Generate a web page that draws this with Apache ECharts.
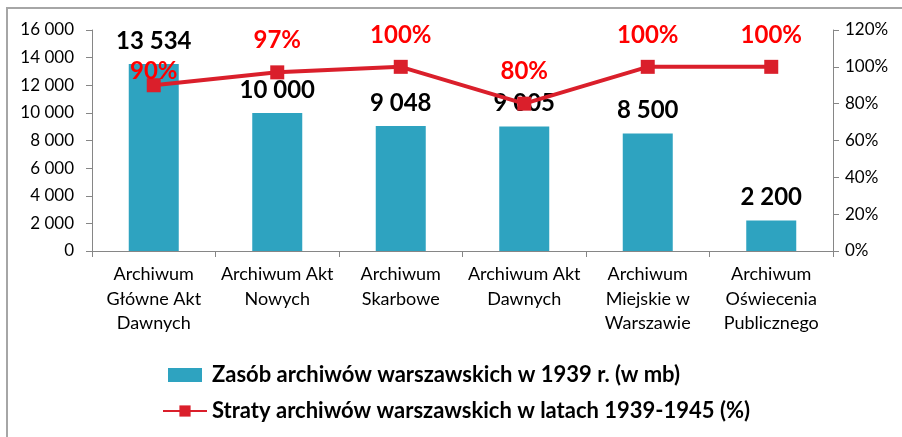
<!DOCTYPE html>
<html>
<head>
<meta charset="utf-8">
<script src="https://cdn.jsdelivr.net/npm/echarts@6/dist/echarts.min.js"></script>
<style>
    html, body { margin: 0; padding: 0; background: #fff; }
    .frame {
        position: absolute;
        left: 6px;
        top: 7px;
        width: 896px;
        height: 430px;
        border-left: 2px solid #a6a6a6;
        border-top: 2px solid #a6a6a6;
    }
    #chart { position: absolute; left: 0; top: 0; width: 902px; height: 437px; }
</style>
</head>
<body>
<div class="frame"></div>
<div id="chart"></div>
<script>
    var categories = [
        'Archiwum\nGłówne Akt\nDawnych',
        'Archiwum Akt\nNowych',
        'Archiwum\nSkarbowe',
        'Archiwum Akt\nDawnych',
        'Archiwum\nMiejskie w\nWarszawie',
        'Archiwum\nOświecenia\nPublicznego'
    ];
    var zasob = [13534, 10000, 9048, 9005, 8500, 2200];
    var straty = [90, 97, 100, 80, 100, 100];
    var barName = 'Zasób archiwów warszawskich w 1939 r. (w mb)';
    var lineName = 'Straty archiwów warszawskich w latach 1939-1945 (%)';

    var font = 'Lato, "Open Sans", sans-serif';

    function fmtNum(v) {
        return String(v).replace(/\B(?=(\d{3})+(?!\d))/g, ' ');
    }

    let chart = echarts.init(document.getElementById('chart'));
    let option = {
        animation: false,
        textStyle: { fontFamily: font },
        grid: { left: 92, right: 69, top: 30, bottom: 186 },
        legend: {
            orient: 'vertical',
            left: 157,
            top: 359,
            itemGap: 14,
            itemWidth: 44,
            itemHeight: 14,
            textStyle: { fontFamily: font, fontSize: 22, fontWeight: 'bold', color: '#000' },
            data: [
                { name: barName, icon: 'path://M10,0 L44,0 L44,14 L10,14 Z' },
                { name: lineName }
            ]
        },
        xAxis: {
            type: 'category',
            data: categories,
            axisLine: { lineStyle: { color: '#868686' } },
            axisTick: { show: true, length: 6, lineStyle: { color: '#868686' } },
            axisLabel: { color: '#000', fontSize: 18, lineHeight: 24.5, margin: 11, interval: 0 }
        },
        yAxis: [
            {
                type: 'value',
                min: 0, max: 16000, interval: 2000,
                axisLine: { show: true, lineStyle: { color: '#868686' } },
                axisTick: { show: true, length: 6, lineStyle: { color: '#868686' } },
                splitLine: { show: false },
                axisLabel: { color: '#000', fontSize: 17, margin: 18, formatter: fmtNum }
            },
            {
                type: 'value',
                min: 0, max: 120, interval: 20,
                axisLine: { show: true, lineStyle: { color: '#868686' } },
                axisTick: { show: true, length: 6, lineStyle: { color: '#868686' } },
                splitLine: { show: false },
                axisLabel: { color: '#000', fontSize: 17, margin: 12, formatter: '{value}%' }
            }
        ],
        series: [
            {
                name: barName,
                type: 'bar',
                data: zasob,
                barWidth: 50,
                itemStyle: { color: '#2ea3c0' },
                label: {
                    show: true,
                    position: 'top',
                    distance: 11,
                    color: '#000',
                    fontSize: 24,
                    fontWeight: 'bold',
                    fontFamily: font,
                    formatter: function (p) { return fmtNum(p.value); }
                }
            },
            {
                name: lineName,
                type: 'line',
                yAxisIndex: 1,
                data: straty.map(function (v, i) {
                    // first label sits almost on the marker, like the original
                    return i === 0 ? { value: v, label: { distance: -5 } } : v;
                }),
                symbol: 'rect',
                symbolSize: 14,
                lineStyle: { color: '#da1f2b', width: 4 },
                itemStyle: { color: '#da1f2b' },
                label: {
                    show: true,
                    position: 'top',
                    distance: 13,
                    color: '#ff0000',
                    fontSize: 24,
                    fontWeight: 'bold',
                    fontFamily: font,
                    formatter: '{c}%'
                },
                z: 5
            }
        ]
    };
    chart.setOption(option);
</script>
</body>
</html>
